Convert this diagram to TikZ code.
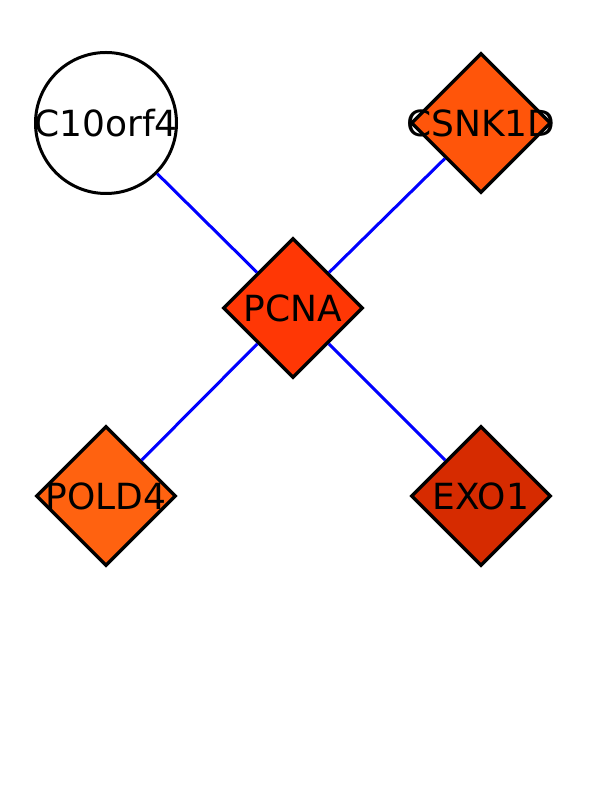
\documentclass[tikz,border=0pt]{standalone}
\usepackage{fontspec}
\newfontfamily\labfont{DejaVu Sans}
\usetikzlibrary{shapes.geometric}
\definecolor{cPCNA}{RGB}{255,55,5}
\definecolor{cCSNK}{RGB}{255,85,10}
\definecolor{cPOLD}{RGB}{255,98,16}
\definecolor{cEXO}{RGB}{214,43,0}
\definecolor{edgeblue}{RGB}{0,0,255}
\tikzset{
  x=1pt, y=1pt,
  gene/.style={diamond, draw=black, line width=3.4pt, minimum width=140pt, minimum height=140pt, inner sep=0pt, aspect=1},
  ring/.style={circle, draw=black, line width=3pt, minimum size=141pt, inner sep=0pt, fill=white},
  lab/.style={font=\labfont\fontsize{36}{40}\selectfont, text=black, inner sep=0pt},
  edge/.style={draw=edgeblue, line width=3pt}
}
\begin{document}
\begin{tikzpicture}
\useasboundingbox (0,0) rectangle (612,792);
\fill[white] (0,0) rectangle (612,792);
\node[ring] (c10) at (106,669) {};
\node[gene, fill=cCSNK] (csnk) at (481,669) {};
\node[gene, fill=cPCNA] (pcna) at (293,484) {};
\node[gene, fill=cPOLD] (pold) at (106,296) {};
\node[gene, fill=cEXO] (exo) at (481,296) {};
\draw[edge] (c10) -- (pcna);
\draw[edge] (csnk) -- (pcna);
\draw[edge] (pold) -- (pcna);
\draw[edge] (exo) -- (pcna);
\node[lab] (tc10) at (c10.center) {C10orf4};
\node[lab] (tcsnk) at (csnk.center) {CSNK1D};
\node[lab] (tpcna) at (pcna.center) {PCNA};
\node[lab] (tpold) at (pold.center) {POLD4};
\node[lab] (texo) at (exo.center) {EXO1};
\end{tikzpicture}
\end{document}
